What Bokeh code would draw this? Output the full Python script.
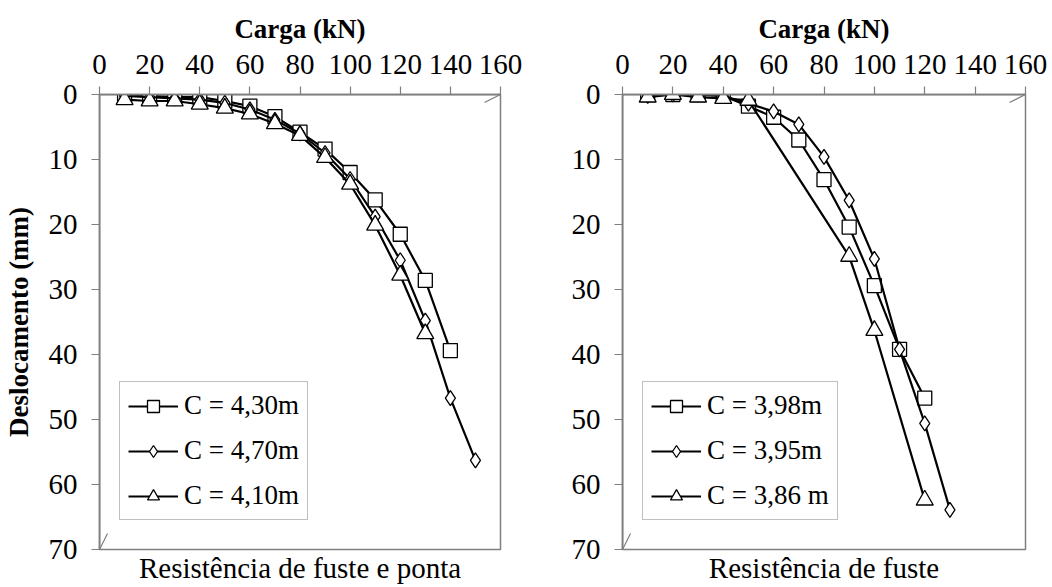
from bokeh.plotting import figure
from bokeh.layouts import row
from bokeh.models import Arrow, OpenHead, Legend, LegendItem, Title, FixedTicker
from bokeh.embed import file_html
from bokeh.resources import INLINE

# ---- data: left chart (Resistência de fuste e ponta)
L_sq_x = [10, 20, 30, 40, 50, 60, 70, 80, 90, 100, 110, 120, 130, 140]
L_sq_y = [0.1, 0.2, 0.4, 0.4, 1.0, 1.8, 3.4, 5.8, 8.4, 12.0, 16.2, 21.5, 28.6, 39.4]
L_di_x = [10, 20, 30, 40, 50, 60, 70, 80, 90, 100, 110, 120, 130, 140, 150]
L_di_y = [0.2, 0.4, 0.6, 0.8, 1.3, 2.3, 3.9, 6.0, 9.0, 13.0, 18.8, 25.5, 34.8, 46.7, 56.3]
L_tr_x = [10, 20, 30, 40, 50, 60, 70, 80, 90, 100, 110, 120, 130]
L_tr_y = [0.8, 1.0, 1.0, 1.5, 2.1, 3.0, 4.5, 6.3, 9.7, 13.8, 20.1, 27.8, 36.8]
L_labels = ["C = 4,30m", "C = 4,70m", "C = 4,10m"]

# ---- data: right chart (Resistência de fuste)
R_sq_x = [10, 20, 30, 40, 50, 60, 70, 80, 90, 100, 110, 120]
R_sq_y = [0.0, 0.0, 0.0, 0.2, 1.8, 3.5, 7.0, 13.1, 20.4, 29.4, 39.2, 46.7]
R_di_x = [10, 20, 30, 40, 50, 60, 70, 80, 90, 100, 110, 120, 130]
R_di_y = [0.2, 0.0, 0.0, 0.2, 1.4, 2.6, 4.6, 9.6, 16.3, 25.3, 39.2, 50.6, 63.9]
R_tr_x = [10, 20, 30, 40, 50, 90, 100, 120]
R_tr_y = [0.4, 0.0, 0.4, 0.6, 0.9, 24.9, 36.3, 62.4]
R_labels = ["C = 3,98m", "C = 3,95m", "C = 3,86 m"]

x_ticks = [0, 20, 40, 60, 80, 100, 120, 140, 160]
y_ticks = [0, 10, 20, 30, 40, 50, 60, 70]

FONT = "Liberation Serif"
GRAY = "#7f7f7f"


def make_chart(series, labels, bottom_text, ylabel, border_left, border_right):
    p = figure(width=526, height=587, x_range=(0, 160), y_range=(70, 0),
               x_axis_location="above", output_backend="svg", toolbar_location=None,
               min_border_left=border_left, min_border_right=border_right,
               min_border_top=94, min_border_bottom=38)
    p.grid.visible = False
    p.outline_line_color = GRAY
    p.outline_line_width = 1.5
    p.background_fill_color = "white"

    p.xaxis.ticker = FixedTicker(ticks=x_ticks)
    p.yaxis.ticker = FixedTicker(ticks=y_ticks)
    for ax in (p.xaxis[0], p.yaxis[0]):
        ax.axis_line_color = GRAY
        ax.axis_line_width = 1.5
        ax.major_tick_line_color = GRAY
        ax.major_tick_line_width = 1.2
        ax.major_tick_out = 8
        ax.major_tick_in = 0
        ax.minor_tick_line_color = None
        ax.major_label_text_font = FONT
        ax.major_label_text_font_size = "29px"
        ax.major_label_text_color = "black"
        ax.axis_label_text_font = FONT
        ax.axis_label_text_font_size = "27px"
        ax.axis_label_text_font_style = "bold"
        ax.axis_label_text_color = "black"
    p.xaxis.axis_label = "Carga (kN)"
    p.xaxis.major_label_standoff = 13
    p.xaxis.axis_label_standoff = 8
    p.yaxis.major_label_standoff = 14
    if ylabel:
        p.yaxis.axis_label = ylabel
        p.yaxis.axis_label_standoff = 12

    markers = ["square", "diamond", "triangle"]
    sizes = [14, 15, 17]
    items = []
    for (xs, ys), m, s, lab in zip(series, markers, sizes, labels):
        ln = p.line(xs, ys, line_color="black", line_width=2.2)
        sc = p.scatter(xs, ys, marker=m, size=s, fill_color="white",
                       line_color="black", line_width=1.3)
        items.append(LegendItem(label=lab, renderers=[ln, sc]))

    p.add_layout(Arrow(end=OpenHead(size=16, line_color=GRAY, line_width=1.2),
                       x_start=0, y_start=0, x_end=160, y_end=0,
                       line_color=GRAY, line_width=1.5))
    p.add_layout(Arrow(end=OpenHead(size=16, line_color=GRAY, line_width=1.2),
                       x_start=0, y_start=0, x_end=0, y_end=70,
                       line_color=GRAY, line_width=1.5))

    leg = Legend(items=items, location=(20, 29))
    leg.label_text_font = FONT
    leg.label_text_font_size = "27px"
    leg.label_text_color = "black"
    leg.glyph_width = 50
    leg.glyph_height = 30
    leg.label_height = 30
    leg.spacing = 14
    leg.padding = 8
    leg.margin = 0
    leg.label_standoff = 6
    leg.border_line_color = GRAY
    leg.border_line_width = 1.2
    leg.background_fill_alpha = 1
    p.add_layout(leg, "center")

    t = Title(text=bottom_text, align="center", text_font=FONT,
              text_font_size="29px", text_font_style="normal",
              text_color="black", standoff=0, offset=0)
    p.add_layout(t, "below")
    return p


p1 = make_chart([(L_sq_x, L_sq_y), (L_di_x, L_di_y), (L_tr_x, L_tr_y)], L_labels,
                "Resistência de fuste e ponta", "Deslocamento (mm)", 98, 26)
p2 = make_chart([(R_sq_x, R_sq_y), (R_di_x, R_di_y), (R_tr_x, R_tr_y)], R_labels,
                "Resistência de fuste", None, 96, 27)

layout = row(p1, p2)
open("out.html", "w").write(file_html(layout, INLINE))
